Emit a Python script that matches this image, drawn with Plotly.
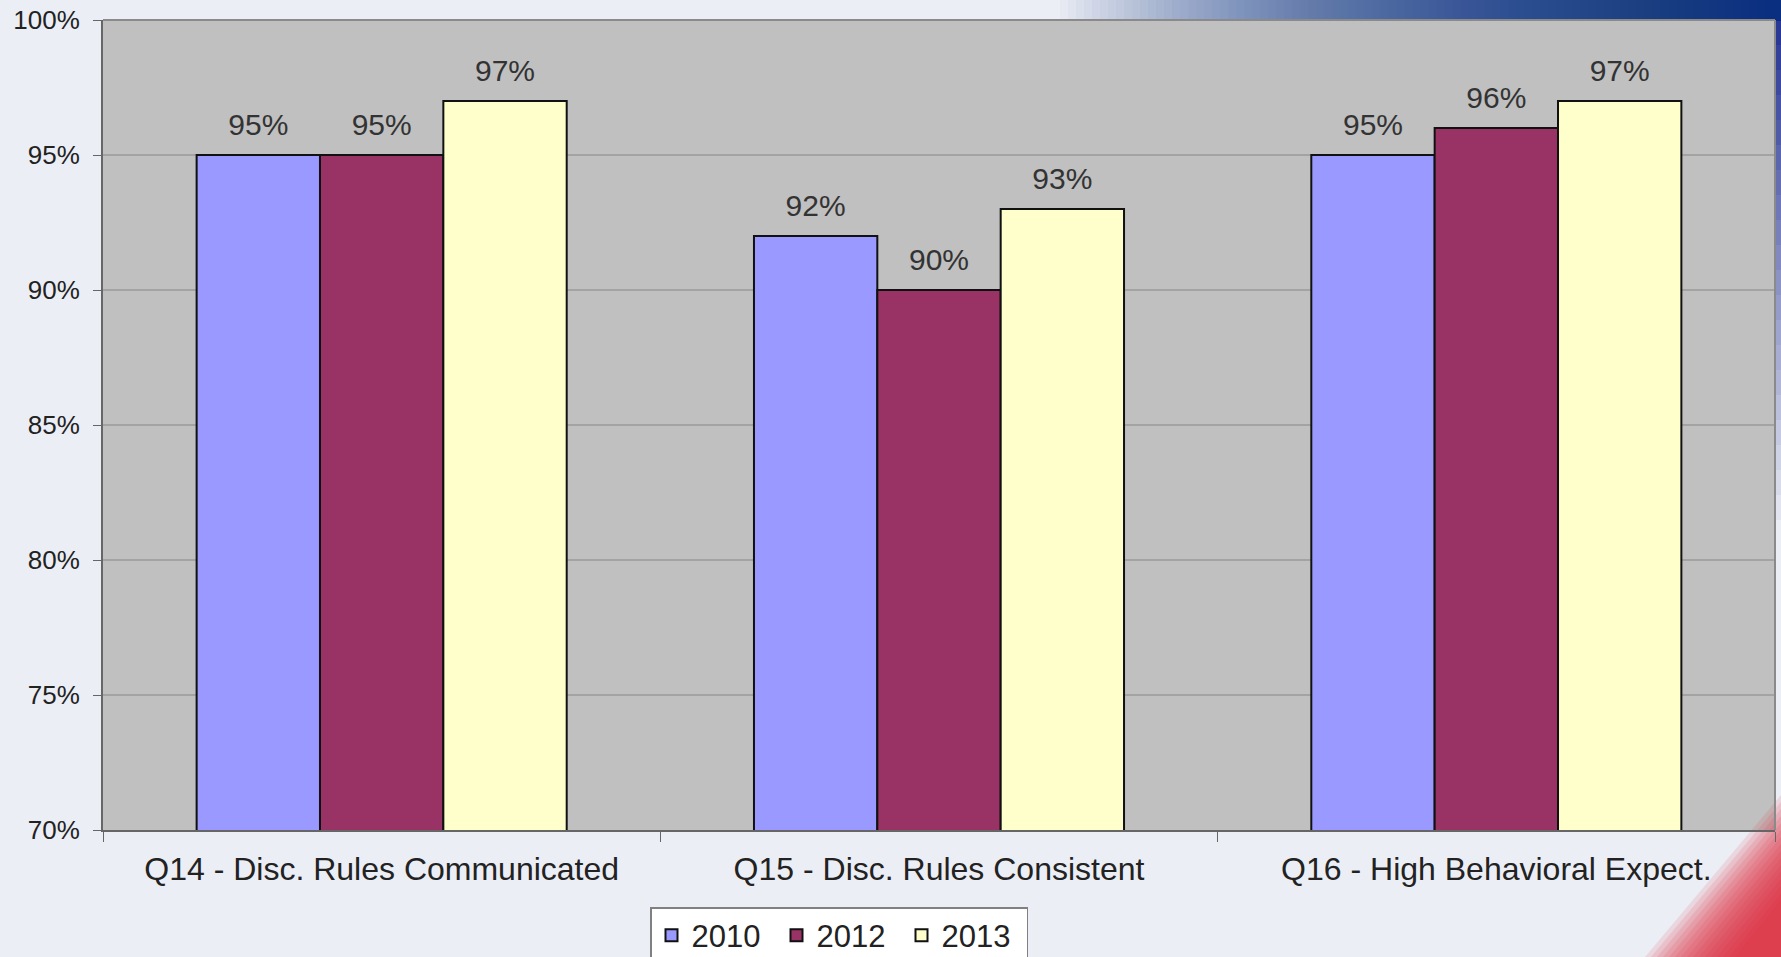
import plotly.graph_objects as go

categories = ["Q14 - Disc. Rules Communicated", "Q15 - Disc. Rules Consistent", "Q16 - High Behavioral Expect."]
years = ["2010", "2012", "2013"]
values_2010 = [95, 92, 95]
values_2012 = [95, 90, 96]
values_2013 = [97, 93, 97]
series = [values_2010, values_2012, values_2013]
colors = ["#9999FF", "#993366", "#FFFFCC"]
y_ticks = [70, 75, 80, 85, 90, 95, 100]
y_ticktext = [f"{v}%" for v in y_ticks]

W, H = 1781, 957
L, R, T, B = 103, 6, 20, 127
pw, ph = W - L - R, H - T - B


def px(x):
    return (x - L) / pw


def py(y):
    return (H - B - y) / ph


fig = go.Figure()
for name, vals, col in zip(years, series, colors):
    fig.add_trace(go.Bar(
        name=name, x=categories, y=vals,
        marker=dict(color=col, line=dict(color="#111111", width=2)),
        hoverinfo="x+y",
    ))
for name, vals in zip(years, series):
    fig.add_trace(go.Scatter(
        name=name + " labels", x=categories, y=vals, mode="markers+text",
        marker=dict(size=18, color="rgba(0,0,0,0)"),
        text=[f"{v}%" for v in vals], textposition="top center",
        textfont=dict(size=30, color="#333333", family="Liberation Sans, Arial"),
        showlegend=False, cliponaxis=False, hoverinfo="skip",
    ))

shapes = []
# blue gradient strip top-right
steps = 90
for i in range(steps):
    x0 = 1060 + i * (W - 1060) / steps
    shapes.append(dict(type="rect", xref="paper", yref="paper", layer="below",
                       x0=px(x0), x1=px(W), y0=py(T + 1), y1=py(0),
                       fillcolor="#14238a", opacity=0.024, line=dict(width=0)))
# right edge strip fading down
for i in range(24):
    y1 = i * 25
    shapes.append(dict(type="rect", xref="paper", yref="paper", layer="below",
                       x0=px(W - 7), x1=px(W), y0=py(T + y1 + 25), y1=py(T + y1),
                       fillcolor="#14238a", opacity=max(0.0, 0.9 - i * 0.045), line=dict(width=0)))
# red corner bottom-right
for i in range(16):
    bx = 1645 + i * 6
    ry = 795 + i * 7
    shapes.append(dict(type="path", xref="paper", yref="paper", layer="below",
                       path=f"M {px(bx)},{py(H)} L {px(W)},{py(H)} L {px(W)},{py(ry)} Z",
                       fillcolor="#e02a36", opacity=0.12, line=dict(width=0)))
# plot frame top/right
shapes.append(dict(type="line", xref="paper", yref="paper", x0=0, x1=1, y0=1, y1=1,
                   line=dict(color="#8a8a8a", width=2)))
shapes.append(dict(type="line", xref="paper", yref="paper", x0=1, x1=1, y0=0, y1=1,
                   line=dict(color="#8a8a8a", width=2)))

fig.update_layout(
    width=W, height=H,
    margin=dict(l=L, r=R, t=T, b=B, autoexpand=False),
    paper_bgcolor="#eceef5",
    plot_bgcolor="#c0c0c0",
    barmode="group", bargap=0.336, bargroupgap=0,
    scattermode="group", scattergap=0.336,
    font=dict(family="Liberation Sans, Arial", color="#222222"),
    shapes=shapes,
    showlegend=True,
    hovermode="closest",
    legend=dict(orientation="h", x=px(650), xanchor="left", y=py(907), yanchor="top",
                bgcolor="#ffffff", bordercolor="#808080", borderwidth=1.5,
                font=dict(size=31, color="#222222"), traceorder="normal",
                itemwidth=30, entrywidth=80, tracegroupgap=0),
    yaxis=dict(range=[70, 100], tickvals=y_ticks, ticktext=y_ticktext,
               showgrid=True, gridcolor="#a3a3a3", gridwidth=1.5,
               showline=True, linecolor="#666666", linewidth=2,
               ticks="outside", ticklen=8, tickcolor="#666666", ticklabelstandoff=8,
               tickfont=dict(size=26, color="#222222"), zeroline=False),
    xaxis=dict(showline=True, linecolor="#666666", linewidth=2,
               ticks="outside", ticklen=10, tickcolor="#666666", tickson="boundaries",
               ticklabelstandoff=10,
               tickfont=dict(size=32, color="#222222")),
)

fig.write_html("out.html", config={"displayModeBar": False},
               post_script="document.body.style.margin='0';")
